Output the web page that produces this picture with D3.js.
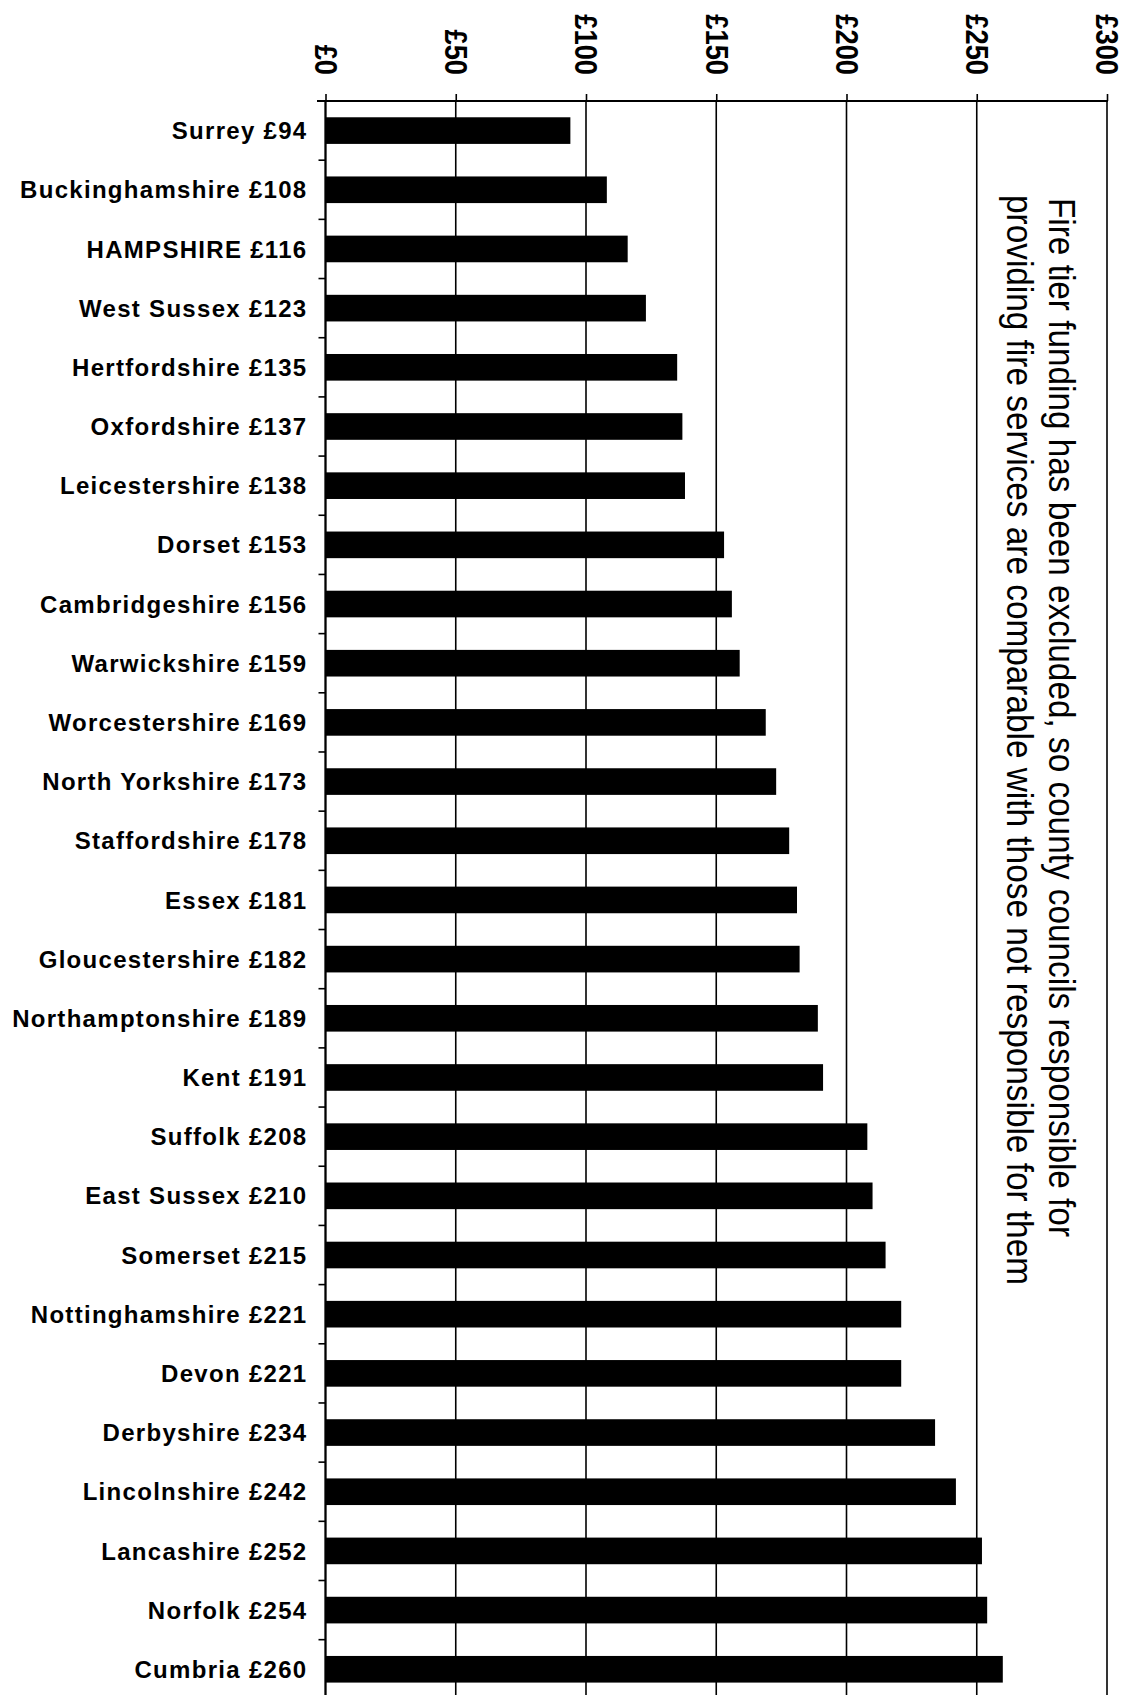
<!DOCTYPE html>
<html>
<head>
<meta charset="utf-8">
<script src="https://cdnjs.cloudflare.com/ajax/libs/d3/7.8.5/d3.min.js"></script>
<style>
  body { margin: 0; background: #fff; }
  svg { display: block; font-family: "Liberation Sans", Arial, sans-serif; }
</style>
</head>
<body>
<svg width="1123" height="1695"></svg>
<script>
const counties = ["Surrey", "Buckinghamshire", "HAMPSHIRE", "West Sussex", "Hertfordshire",
  "Oxfordshire", "Leicestershire", "Dorset", "Cambridgeshire", "Warwickshire",
  "Worcestershire", "North Yorkshire", "Staffordshire", "Essex", "Gloucestershire",
  "Northamptonshire", "Kent", "Suffolk", "East Sussex", "Somerset", "Nottinghamshire",
  "Devon", "Derbyshire", "Lincolnshire", "Lancashire", "Norfolk", "Cumbria"]
const values = [94, 108, 116, 123, 135, 137, 138, 153, 156, 159, 169, 173, 178, 181, 182,
  189, 191, 208, 210, 215, 221, 221, 234, 242, 252, 254, 260]
const xTicks = [0, 50, 100, 150, 200, 250, 300]
const note = ["Fire tier funding has been excluded, so county councils responsible for",
  "providing fire services are comparable with those not responsible for them"]

const margin = {top: 101, left: 325.5}
const width = 781.5
const height = 59.18 * counties.length

const data = counties.map((c, i) => ({name: c, value: values[i]}))

const svg = d3.select("svg")
svg.append("rect").attr("width", 1123).attr("height", 1695).attr("fill", "#fff")
const g = svg.append("g").attr("transform", `translate(${margin.left},${margin.top})`)

const x = d3.scaleLinear().domain([0, 300]).range([0, width])
const y = d3.scaleBand().domain(counties).range([0, height]).paddingInner(0.55).paddingOuter(0.275)

// gridlines
g.selectAll(".grid").data(xTicks).enter().append("line")
  .attr("class", "grid")
  .attr("x1", d => x(d)).attr("x2", d => x(d))
  .attr("y1", 0).attr("y2", height)
  .attr("stroke", "#000").attr("stroke-width", 1.6)

// bars
g.selectAll(".bar").data(data).enter().append("rect")
  .attr("class", "bar")
  .attr("x", 0)
  .attr("y", d => y(d.name))
  .attr("width", d => x(d.value))
  .attr("height", y.bandwidth())
  .attr("fill", "#000")

// top axis
const xAxis = d3.axisTop(x).tickValues(xTicks).tickSize(7).tickSizeOuter(0).tickFormat(d => "£" + d)
const xg = g.append("g").call(xAxis)
xg.select(".domain").attr("d", `M-8.5,0H${width + 1}`).attr("stroke-width", 2)
xg.selectAll(".tick line").attr("stroke-width", 1.6)
xg.selectAll(".tick text")
  .attr("x", 0).attr("y", 0).attr("dy", "0.36em")
  .attr("transform", "translate(0,-26) rotate(90) scale(0.88,1)")
  .attr("text-anchor", "end")
  .attr("font-size", 31).attr("font-weight", "bold")
  .attr("fill", "#000")

// left axis: line, boundary ticks, labels
g.append("line").attr("x1", 0).attr("x2", 0).attr("y1", 0).attr("y2", height)
  .attr("stroke", "#000").attr("stroke-width", 2)
const gap = (y.step() - y.bandwidth()) / 2
g.selectAll(".ytick").data(counties).enter().append("line")
  .attr("class", "ytick")
  .attr("x1", -7).attr("x2", 0)
  .attr("y1", d => y(d) - gap).attr("y2", d => y(d) - gap)
  .attr("stroke", "#000").attr("stroke-width", 1.6)

g.selectAll(".ylabel").data(data).enter().append("text")
  .attr("class", "ylabel")
  .attr("x", -18)
  .attr("y", d => y(d.name) + y.bandwidth() / 2)
  .attr("dy", "0.36em")
  .attr("text-anchor", "end")
  .attr("font-size", 24).attr("font-weight", "bold")
  .attr("letter-spacing", 1.3)
  .text(d => d.name + " £" + d.value)

// rotated note
const noteG = svg.append("g")
noteG.selectAll("text").data(note).enter().append("text")
  .attr("transform", (d, i) => `translate(${1049 - i * 42},${i === 0 ? 198 : 195}) rotate(90)`)
  .attr("font-size", 37)
  .attr("textLength", (d, i) => i === 0 ? 1039 : 1090)
  .attr("lengthAdjust", "spacingAndGlyphs")
  .text(d => d)
</script>
</body>
</html>
